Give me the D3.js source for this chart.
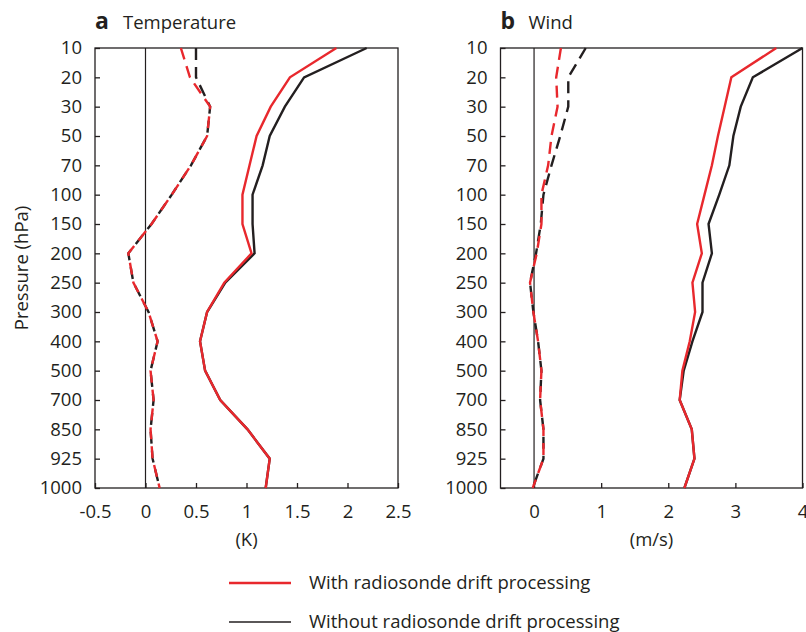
<!DOCTYPE html>
<html>
<head>
<meta charset="utf-8">
<script src="https://cdn.jsdelivr.net/npm/d3@7"></script>
<style>
  body { margin: 0; background: #fff; }
  text { font-family: "Open Sans", "Noto Sans", sans-serif; fill: #231f20; }
</style>
</head>
<body>
<div id="chart"></div>
<script>
// Pressure levels (hPa), top to bottom
var levels = [10, 20, 30, 50, 70, 100, 150, 200, 250, 300, 400, 500, 700, 850, 925, 1000];

// Temperature (K): solid = one statistic, dashed = another
var tempWithSolid    = [1.89, 1.43, 1.24, 1.10, 1.03, 0.96, 0.96, 1.05, 0.78, 0.61, 0.54, 0.59, 0.74, 1.01, 1.23, 1.19];
var tempWithoutSolid = [2.19, 1.57, 1.38, 1.23, 1.16, 1.06, 1.06, 1.08, 0.79, 0.61, 0.54, 0.59, 0.74, 1.01, 1.23, 1.19];
var tempWithDash     = [0.35, 0.44, 0.64, 0.61, 0.45, 0.26, 0.06, -0.17, -0.12, 0.03, 0.12, 0.05, 0.08, 0.05, 0.07, 0.14];
var tempWithoutDash  = [0.50, 0.50, 0.64, 0.61, 0.45, 0.26, 0.06, -0.17, -0.12, 0.03, 0.12, 0.05, 0.08, 0.05, 0.07, 0.14];

// Wind (m/s)
var windWithSolid    = [3.61, 2.94, 2.84, 2.74, 2.65, 2.54, 2.43, 2.50, 2.36, 2.40, 2.32, 2.21, 2.17, 2.35, 2.39, 2.24];
var windWithoutSolid = [4.00, 3.26, 3.08, 2.97, 2.91, 2.76, 2.60, 2.65, 2.51, 2.51, 2.36, 2.23, 2.17, 2.35, 2.39, 2.24];
var windWithDash     = [0.40, 0.33, 0.35, 0.26, 0.21, 0.11, 0.11, 0.04, -0.06, -0.01, 0.06, 0.11, 0.09, 0.14, 0.14, -0.02];
var windWithoutDash  = [0.77, 0.51, 0.51, 0.39, 0.26, 0.14, 0.10, 0.03, -0.06, -0.01, 0.06, 0.11, 0.09, 0.14, 0.14, -0.02];

var tempTicks = [-0.5, 0, 0.5, 1, 1.5, 2, 2.5];
var windTicks = [0, 1, 2, 3, 4];

var RED = "#e8282d";
var BLACK = "#231f20";

var svg = d3.select("#chart").append("svg")
  .attr("width", 806)
  .attr("height", 632);

var yTop = 48, yBottom = 488;

var y = d3.scalePoint()
  .domain(levels)
  .range([yTop, yBottom]);

// Function to draw one panel
function drawPanel(opts) {
  var x = d3.scaleLinear().domain(opts.domain).range([opts.left, opts.right]);
  var g = svg.append("g");

  // Frame
  g.append("rect")
    .attr("x", opts.left).attr("y", yTop)
    .attr("width", opts.right - opts.left).attr("height", yBottom - yTop)
    .attr("fill", "none").attr("stroke", BLACK).attr("stroke-width", 1.3);

  // Zero line
  g.append("line")
    .attr("x1", x(0)).attr("x2", x(0))
    .attr("y1", yTop).attr("y2", yBottom)
    .attr("stroke", BLACK).attr("stroke-width", 1.2);

  // x axis
  var xAxis = d3.axisBottom(x)
    .tickValues(opts.ticks)
    .tickSize(-5)
    .tickPadding(17)
    .tickFormat(function (d) { return String(d); });
  var gx = g.append("g")
    .attr("transform", "translate(0," + yBottom + ")")
    .call(xAxis);
  gx.select(".domain").remove();
  gx.selectAll(".tick line").attr("stroke", BLACK).attr("stroke-width", 1.3);
  gx.selectAll(".tick text").style("font-size", "18.5px").attr("fill", BLACK);

  // y axis
  var yAxis = d3.axisLeft(y)
    .tickSize(-5)
    .tickPadding(13);
  var gy = g.append("g")
    .attr("transform", "translate(" + opts.left + ",0)")
    .call(yAxis);
  gy.select(".domain").remove();
  gy.selectAll(".tick line").attr("stroke", BLACK).attr("stroke-width", 1.3);
  gy.selectAll(".tick text").style("font-size", "18.5px").attr("fill", BLACK);

  // Lines: black first, red on top
  var line = d3.line()
    .x(function (d) { return x(d.v); })
    .y(function (d) { return y(d.p); });

  function toPts(arr) {
    return arr.map(function (v, i) { return { p: levels[i], v: v }; });
  }

  var series = [
    { values: opts.withoutDash, color: BLACK, dash: "12,7" },
    { values: opts.withDash, color: RED, dash: "12,7" },
    { values: opts.withoutSolid, color: BLACK, dash: null },
    { values: opts.withSolid, color: RED, dash: null }
  ];

  series.forEach(function (s) {
    g.append("path")
      .datum(toPts(s.values))
      .attr("d", line)
      .attr("fill", "none")
      .attr("stroke", s.color)
      .attr("stroke-width", 2.4)
      .attr("stroke-dasharray", s.dash);
  });

  // Panel title
  g.append("text")
    .attr("x", opts.left).attr("y", 29)
    .style("font-size", "23px").style("font-weight", "bold")
    .text(opts.letter);
  g.append("text")
    .attr("x", opts.left + 28).attr("y", 29)
    .style("font-size", "18.5px")
    .text(opts.title);

  // x axis label
  g.append("text")
    .attr("x", (opts.left + opts.right) / 2).attr("y", 546)
    .attr("text-anchor", "middle")
    .style("font-size", "18.5px")
    .text(opts.unit);
}

drawPanel({
  left: 95, right: 398, domain: [-0.5, 2.5], ticks: tempTicks,
  withSolid: tempWithSolid, withoutSolid: tempWithoutSolid,
  withDash: tempWithDash, withoutDash: tempWithoutDash,
  letter: "a", title: "Temperature", unit: "(K)"
});

drawPanel({
  left: 500.5, right: 802.5, domain: [-0.5, 4], ticks: windTicks,
  withSolid: windWithSolid, withoutSolid: windWithoutSolid,
  withDash: windWithDash, withoutDash: windWithoutDash,
  letter: "b", title: "Wind", unit: "(m/s)"
});

// y axis label
svg.append("text")
  .attr("transform", "translate(22," + ((yTop + yBottom) / 2) + ") rotate(-90)")
  .attr("text-anchor", "middle")
  .attr("dy", "0.35em")
  .style("font-size", "18.5px")
  .text("Pressure (hPa)");

// Legend
var legend = [
  { label: "With radiosonde drift processing", color: RED, width: 2.4, y: 583 },
  { label: "Without radiosonde drift processing", color: BLACK, width: 1.5, y: 622 }
];

legend.forEach(function (d) {
  svg.append("line")
    .attr("x1", 229).attr("x2", 291)
    .attr("y1", d.y).attr("y2", d.y)
    .attr("stroke", d.color).attr("stroke-width", d.width);
  svg.append("text")
    .attr("x", 309).attr("y", d.y)
    .attr("dy", "0.35em")
    .style("font-size", "18.5px")
    .text(d.label);
});
</script>
</body>
</html>
